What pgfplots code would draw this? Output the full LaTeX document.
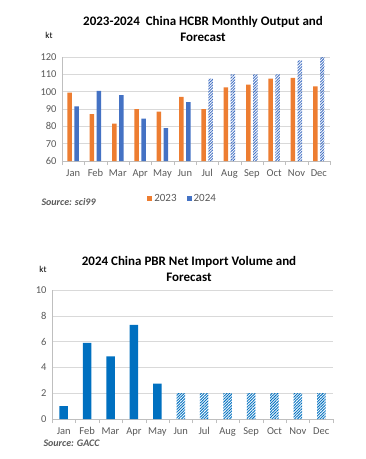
\documentclass[border=0pt]{standalone}
\usepackage{pgfplots}
\pgfplotsset{compat=1.18}
\usepackage{fontspec}
\setmainfont{Carlito}
\usetikzlibrary{patterns.meta}
\definecolor{corange}{HTML}{ED7D31}
\definecolor{cblue}{HTML}{4472C4}
\definecolor{cblue2}{HTML}{0070C0}
\definecolor{tgray}{HTML}{595959}
\definecolor{ggray}{HTML}{D9D9D9}
\definecolor{agray}{HTML}{BFBFBF}
\pgfplotsset{
  common/.style={
    scale only axis,
    anchor=south west,
    xmin=-0.5, xmax=11.5,
    xtick={0,...,11},
    xticklabels={Jan,Feb,Mar,Apr,May,Jun,Jul,Aug,Sep,Oct,Nov,Dec},
    minor xtick={-0.5,0.5,...,11.5},
    tick align=outside,
    major tick length=0pt,
    minor tick length=4pt,
    minor x tick style={agray},
    ymajorgrids, grid style={ggray},
    axis x line*=bottom, axis y line*=left,
    axis line style={agray},
    ticklabel style={font=\fontsize{10.5}{12}\selectfont, text=tgray},
    xticklabel style={yshift=-5pt},
    yticklabel style={xshift=-2pt},
    /pgf/number format/assume math mode=true,
    ybar,
  },
  hatch/.style={draw=none, pattern={Lines[angle=45,distance=2pt,line width=0.9pt]}, pattern color=#1},
}
\begin{document}
\begin{tikzpicture}
\useasboundingbox (0pt,0pt) rectangle (366pt,-459pt);
% ---------- top chart ----------
\node[font=\bfseries\fontsize{13}{15}\selectfont] at (203pt,-22pt) {2023-2024\ \ China HCBR Monthly Output and};
\node[font=\bfseries\fontsize{13}{15}\selectfont] at (203pt,-37pt) {Forecast};
\node[font=\fontsize{9}{10}\selectfont] at (49pt,-35pt) {kt};
\begin{axis}[common, at={(62pt,-161pt)}, width=268pt, height=104pt,
  ymin=60, ymax=120, ytick={60,70,...,120},
  bar width=4.5pt,
  legend style={at={(0.45,-0.36)}, anchor=center, draw=none, legend columns=2,
    font=\fontsize{11}{12}\selectfont, text=tgray,
    /tikz/every even column/.append style={column sep=8pt}},
  legend image code/.code={\fill[#1] (0pt,-2.5pt) rectangle (5pt,2.5pt);},
]
\addplot[draw=none, fill=corange, bar shift=-3.5pt] coordinates {(0,99.5)(1,87)(2,81.5)(3,90)(4,88.5)(5,97)(6,90)(7,102.5)(8,104)(9,107.5)(10,108)(11,103)};
\addlegendentry{2023}
\addplot[draw=none, fill=cblue, bar shift=3.5pt] coordinates {(0,91.5)(1,100.5)(2,98)(3,84.5)(4,79)(5,94)};
\addlegendentry{2024}
\addplot[hatch=cblue, bar shift=3.5pt, forget plot] coordinates {(6,107.5)(7,110)(8,110)(9,110)(10,118)(11,120)};
\end{axis}
\node[anchor=west, font=\bfseries\itshape\fontsize{10}{12}\selectfont, text=tgray] at (38pt,-202pt) {Source: sci99};
% ---------- bottom chart ----------
\node[font=\bfseries\fontsize{13}{15}\selectfont] at (189pt,-262pt) {2024\ China PBR Net Import Volume and};
\node[font=\bfseries\fontsize{13}{15}\selectfont] at (189pt,-277pt) {Forecast};
\node[font=\fontsize{9}{10}\selectfont] at (43pt,-269pt) {kt};
\begin{axis}[common, at={(52pt,-419pt)}, width=281pt, height=129pt,
  ymin=0, ymax=10, ytick={0,2,...,10},
  bar width=8.5pt,
]
\addplot[draw=none, fill=cblue2, bar shift=0pt] coordinates {(0,1)(1,5.9)(2,4.85)(3,7.3)(4,2.75)};
\addplot[hatch=cblue2, bar shift=0pt] coordinates {(5,2)(6,2)(7,2)(8,2)(9,2)(10,2)(11,2)};
\end{axis}
\node[anchor=west, font=\bfseries\itshape\fontsize{10}{12}\selectfont, text=tgray] at (40pt,-443pt) {Source: GACC};
\end{tikzpicture}
\end{document}
